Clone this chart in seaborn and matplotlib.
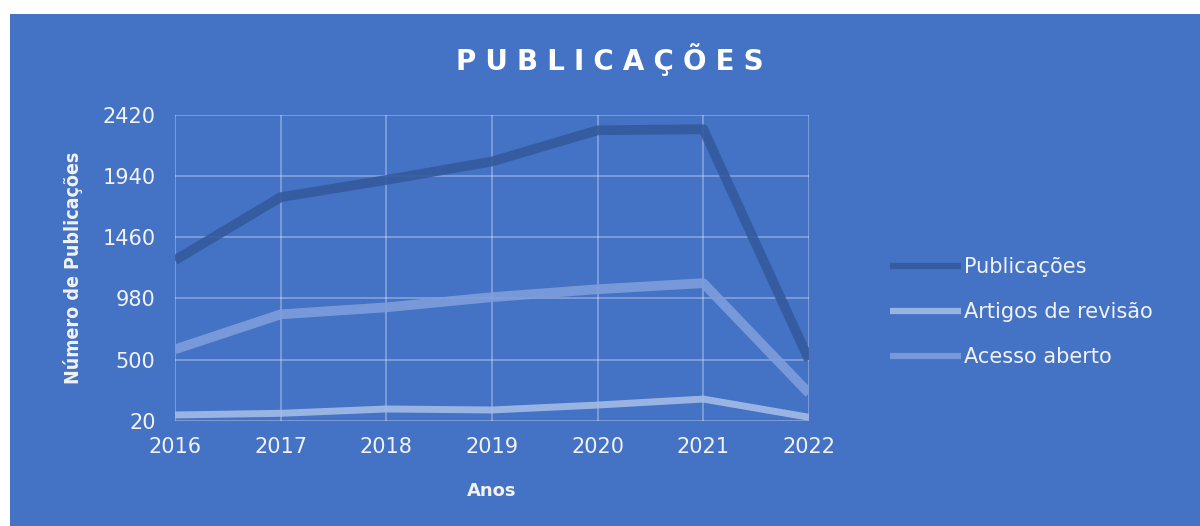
import matplotlib
matplotlib.use('Agg')
import matplotlib.pyplot as plt
import seaborn as sns
import pandas as pd
from matplotlib.patches import Rectangle

anos = [2016, 2017, 2018, 2019, 2020, 2021, 2022]
publicacoes = [1280, 1775, 1910, 2055, 2300, 2308, 497]
artigos_revisao = [65, 78, 112, 104, 143, 190, 47]
acesso_aberto = [580, 855, 910, 990, 1052, 1100, 235]
yticks = [20, 500, 980, 1460, 1940, 2420]

series = ['Publicações', 'Artigos de revisão', 'Acesso aberto']
cores = {'Publicações': '#34599B', 'Artigos de revisão': '#A6BDE7', 'Acesso aberto': '#7F9FDC'}
larguras = {'Publicações': 7, 'Artigos de revisão': 5, 'Acesso aberto': 7}

df = pd.DataFrame({
    'Ano': anos * 3,
    'Valor': publicacoes + artigos_revisao + acesso_aberto,
    'Serie': [s for s in series for _ in anos],
})

sns.set_style('white')
plt.rcParams['font.family'] = ['DejaVu Sans']
bg = '#4472C4'
txt = '#F2F2F2'

fig = plt.figure(figsize=(12, 5.26), dpi=100, facecolor='white')
fig.patches.append(Rectangle((10 / 1200, 0), 1, (526 - 14) / 526, transform=fig.transFigure,
                             facecolor=bg, edgecolor='none', zorder=-10))
ax = fig.add_axes([175 / 1200, 1 - 420.7 / 526, (809 - 175) / 1200, (420.7 - 115) / 526])
ax.set_facecolor(bg)
ax.patch.set_alpha(0)

for s in series:
    sns.lineplot(data=df[df['Serie'] == s], x='Ano', y='Valor', ax=ax, color=cores[s],
                 linewidth=larguras[s], label=s, solid_joinstyle='round', solid_capstyle='butt',
                 alpha=0.88, zorder=3, legend=False)

ax.set_xlim(2016, 2022)
ax.set_ylim(20, 2420)
ax.set_xticks(anos)
ax.set_yticks(yticks)
ax.grid(True, color='white', alpha=0.35, linewidth=1.2)
for sp in ax.spines.values():
    sp.set_visible(False)
ax.tick_params(colors=txt, labelsize=15, length=0)
ax.tick_params(axis='x', pad=12)
ax.tick_params(axis='y', pad=14)
ax.set_xlabel('Anos', color=txt, fontsize=13, fontweight='bold', labelpad=18)
ax.set_ylabel('Número de Publicações', color=txt, fontsize=14, fontweight='bold',
              fontstretch='condensed', labelpad=14)

fig.text(610 / 1200, 1 - 60 / 526, '\u2004'.join('PUBLICAÇÕES'), color='white', fontsize=20,
         fontweight='bold', ha='center', va='center')

handles = ax.get_lines()[:3]
leg = fig.legend(handles, series, loc='upper left', bbox_to_anchor=(890 / 1200, 1 - 257 / 526),
                 frameon=False, fontsize=15, labelcolor=txt, handlelength=3.4,
                 handletextpad=0.15, labelspacing=1.2, borderpad=0, borderaxespad=0)
for line in leg.get_lines():
    line.set_linewidth(4.5)

fig.savefig('out.png', dpi=100, facecolor='white')
